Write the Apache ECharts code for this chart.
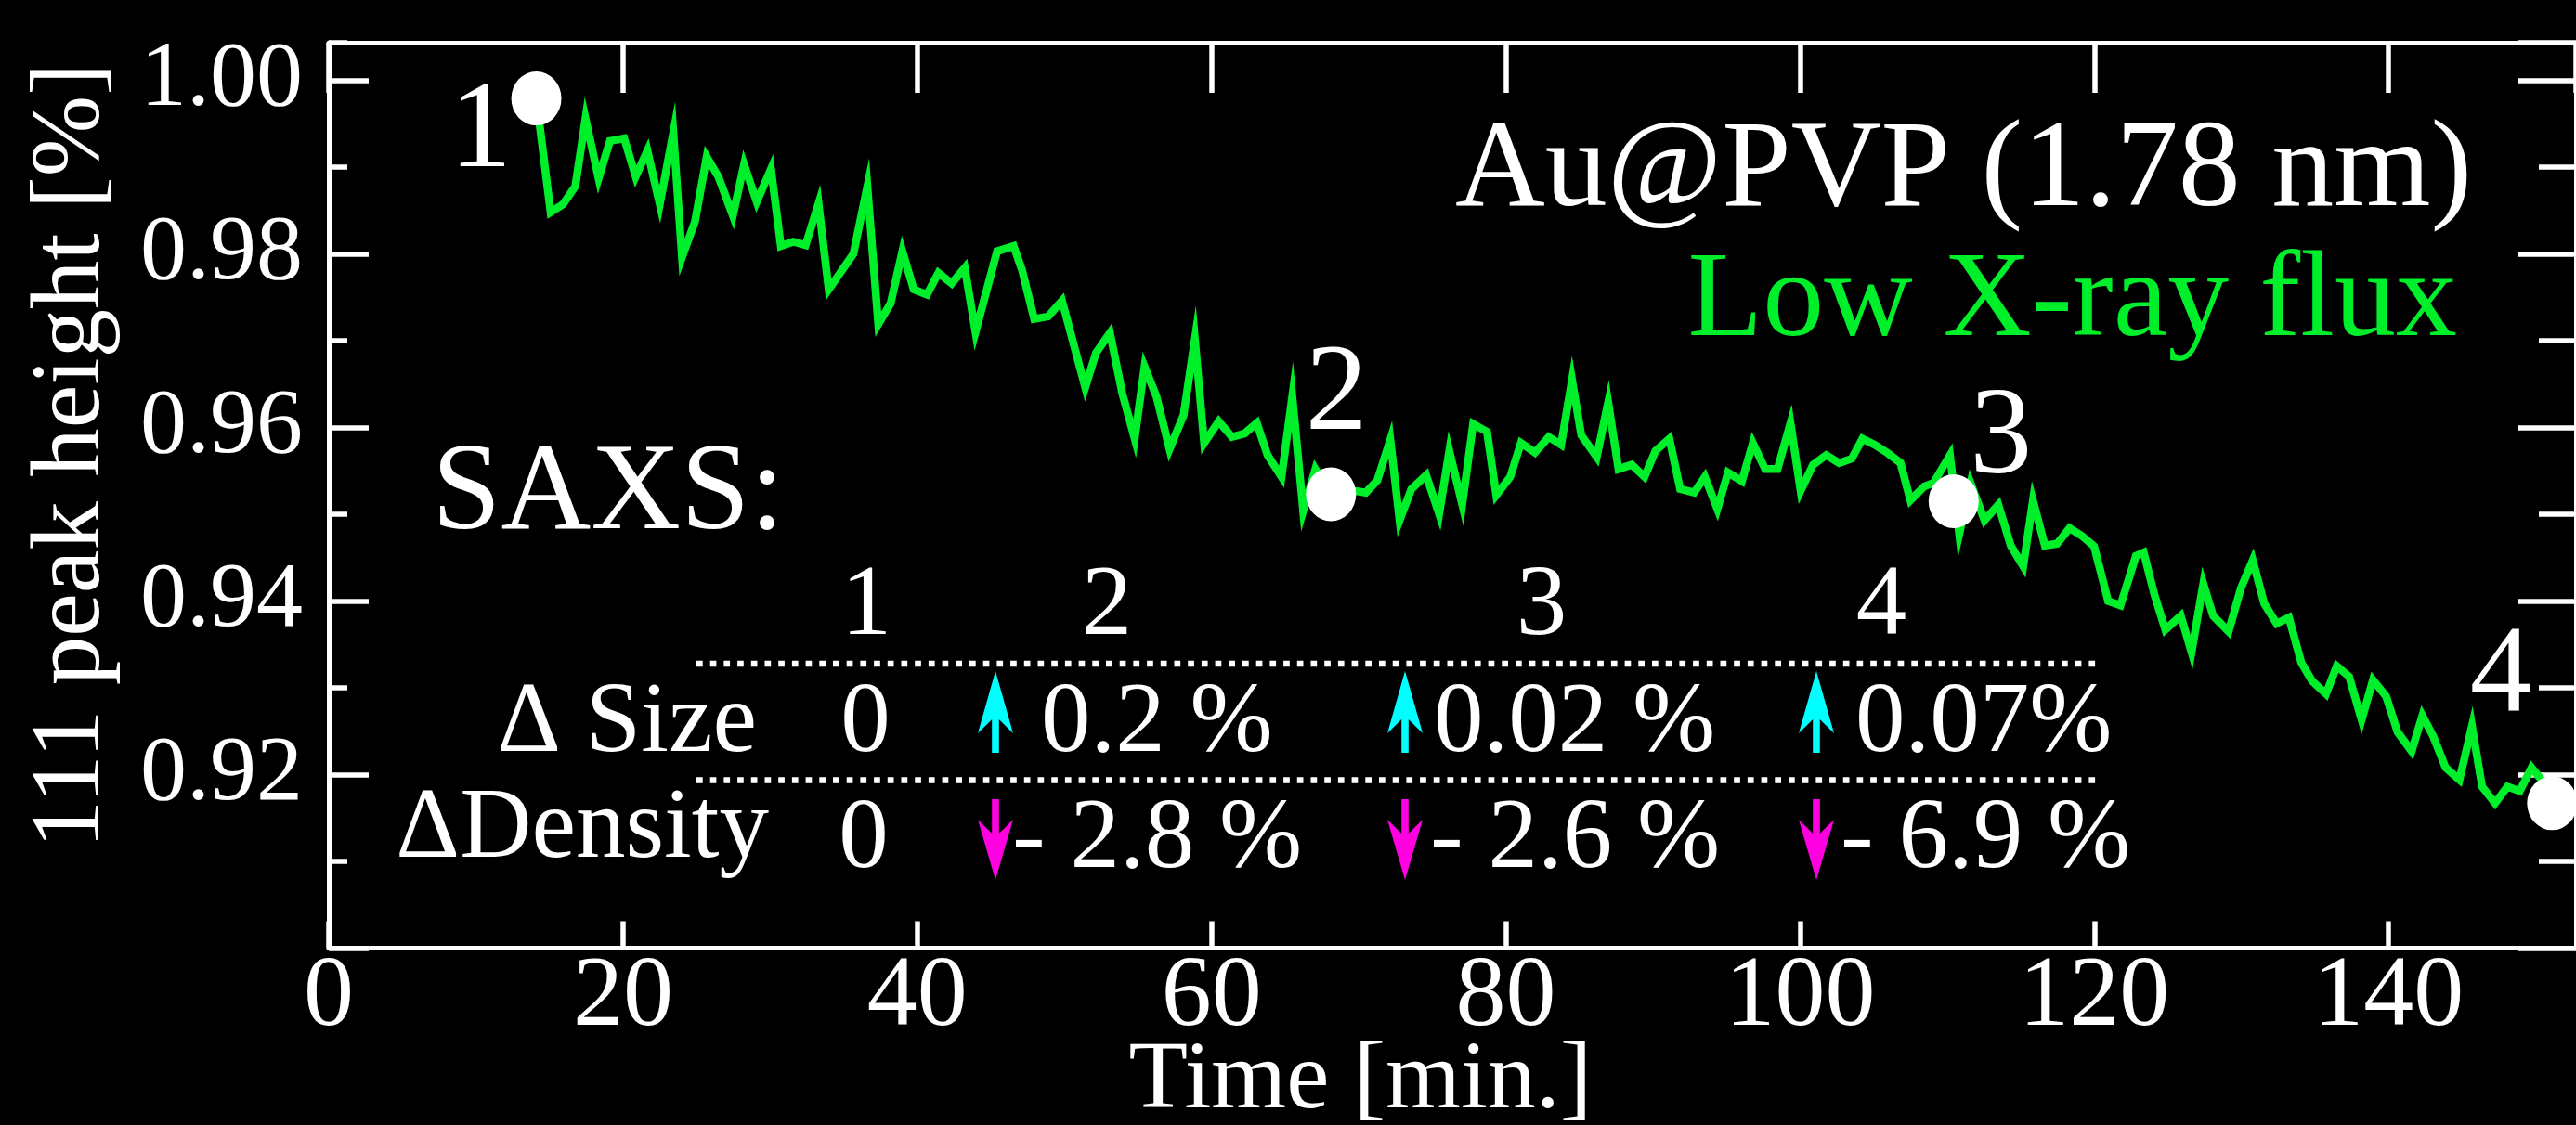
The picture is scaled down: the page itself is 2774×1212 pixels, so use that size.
<!DOCTYPE html>
<html>
<head>
<meta charset="utf-8">
<script src="https://cdn.jsdelivr.net/npm/echarts@6/dist/echarts.min.js"></script>
<style>
html,body{margin:0;padding:0;background:#000;}
#c{width:2774px;height:1212px;}
</style>
</head>
<body>
<div id="c"></div>
<script>
// ---- data ----
const timeMin = [14.11,15.08,15.92,16.76,17.45,18.34,19.11,20.08,20.86,21.66,22.50,23.42,24.01,24.89,25.69,26.48,27.47,28.23,29.09,30.06,30.73,31.57,32.41,33.29,33.98,35.66,36.61,37.35,38.19,38.99,39.76,40.66,41.44,42.34,43.23,43.96,45.43,46.55,47.11,47.95,48.90,49.84,51.42,52.15,53.10,53.94,54.78,55.45,56.25,57.15,58.10,58.87,59.50,60.49,61.39,62.24,63.08,63.81,64.76,65.49,66.23,67.06,68.12,69.69,70.49,71.27,72.15,72.78,73.58,74.59,75.47,76.16,77.04,77.78,78.72,79.35,80.30,81.03,81.98,82.92,83.76,84.50,85.13,86.18,86.96,87.66,88.56,89.43,90.17,91.12,91.85,92.80,93.53,94.38,95.10,96.05,96.79,97.63,98.47,99.35,100.04,100.88,101.78,102.66,103.51,104.24,105.08,105.99,106.83,107.50,108.44,109.07,110.19,110.82,111.59,112.54,113.48,114.32,115.17,115.83,116.64,117.47,118.32,119.16,119.99,120.94,121.78,122.83,123.36,124.09,124.83,125.88,126.61,127.41,128.08,129.13,129.97,130.77,131.55,132.39,133.23,134.07,134.80,135.75,136.48,137.32,138.17,138.94,139.84,140.62,141.57,142.30,143.04,143.88,144.82,145.67,146.36,147.24,148.08,148.92,149.72,150.39,151.12];
const peakHeight = [0.9979,0.9848,0.9857,0.9878,0.9956,0.9887,0.9930,0.9933,0.9889,0.9919,0.9857,0.9940,0.9796,0.9837,0.9912,0.9889,0.9844,0.9903,0.9860,0.9898,0.9809,0.9814,0.9810,0.9858,0.9759,0.9800,0.9878,0.9719,0.9743,0.9803,0.9759,0.9753,0.9778,0.9766,0.9784,0.9710,0.9803,0.9809,0.9782,0.9725,0.9728,0.9746,0.9646,0.9686,0.9709,0.9639,0.9587,0.9670,0.9636,0.9575,0.9614,0.9702,0.9582,0.9607,0.9589,0.9593,0.9605,0.9568,0.9543,0.9636,0.9504,0.9552,0.9523,0.9527,0.9525,0.9539,0.9586,0.9493,0.9529,0.9545,0.9500,0.9573,0.9511,0.9604,0.9595,0.9522,0.9543,0.9582,0.9571,0.9589,0.9580,0.9655,0.9591,0.9566,0.9629,0.9552,0.9557,0.9543,0.9573,0.9587,0.9529,0.9525,0.9543,0.9506,0.9548,0.9538,0.9582,0.9552,0.9552,0.9605,0.9527,0.9557,0.9568,0.9559,0.9564,0.9587,0.9580,0.9570,0.9559,0.9516,0.9532,0.9536,0.9568,0.9477,0.9536,0.9493,0.9511,0.9464,0.9440,0.9516,0.9464,0.9466,0.9484,0.9475,0.9463,0.9400,0.9395,0.9452,0.9456,0.9407,0.9367,0.9383,0.9341,0.9420,0.9383,0.9365,0.9415,0.9447,0.9397,0.9374,0.9381,0.9329,0.9308,0.9293,0.9325,0.9313,0.9263,0.9309,0.9290,0.9249,0.9227,0.9268,0.9244,0.9208,0.9194,0.9256,0.9186,0.9167,0.9186,0.9181,0.9208,0.9194,0.9167];

const saxsTime   = [14.11, 68.12, 110.44, 151.12];
const saxsHeight = [0.9979, 0.9523, 0.9515, 0.9167];
const saxsLabels = ['1', '2', '3', '4'];

const yTickLabels = ['0.92', '0.94', '0.96', '0.98', '1.00'];

const tableCols     = ['1', '2', '3', '4'];
const sizeChange    = ['0', '0.2 %', '0.02 %', '0.07%'];
const densityChange = ['0', '- 2.8 %', '- 2.6 %', '- 6.9 %'];

const titleText = 'Au@PVP (1.78 nm)';
const subtitleText = 'Low X-ray flux';

// ---- styling / layout ----
const FONT = "'Liberation Serif', 'Times New Roman', serif";
const GREEN = '#00ef2b';
const CYAN = '#00ffff';
const MAGENTA = '#ff00e0';

const labelOffsets = [[-60, 38], [6, -106], [51, -66], [-55, -136]];

function txt(text, x, y, size, align, color, extra) {
  return Object.assign({
    type: 'text', x: x, y: y, z: 50,
    style: {
      text: text, fill: color || '#fff', font: size + 'px ' + FONT,
      textAlign: align, align: align,
      textVerticalAlign: 'middle', verticalAlign: 'middle'
    }
  }, extra || {});
}
function upArrow(cx, color) {
  return { type: 'polygon', z: 50, shape: { points: [
    [cx, 723], [cx + 19, 790], [cx + 3.8, 775], [cx + 3.8, 811],
    [cx - 3.8, 811], [cx - 3.8, 775], [cx - 19, 790]] }, style: { fill: color } };
}
function downArrow(cx, color) {
  return { type: 'polygon', z: 50, shape: { points: [
    [cx, 948], [cx + 19, 883], [cx + 3.8, 898], [cx + 3.8, 861],
    [cx - 3.8, 861], [cx - 3.8, 898], [cx - 19, 883]] }, style: { fill: color } };
}

const colX = [933, 1192, 1660, 2026];
const graphics = [
  txt(titleText, 2662, 186, 134, 'right', '#fff'),
  txt(subtitleText, 2646, 326, 132, 'right', GREEN),
  txt('SAXS:', 465, 534, 134, 'left', '#fff'),
  txt('Time [min.]', 1465, 1166, 104, 'center', '#fff'),
  txt('111 peak height [%]', 78, 491, 105, 'center', '#fff', { rotation: Math.PI / 2 }),
  { type: 'line', z: 50, shape: { x1: 750, y1: 715, x2: 2261, y2: 715 },
    style: { stroke: '#fff', lineWidth: 6.7, lineDash: [6.7, 8] } },
  { type: 'line', z: 50, shape: { x1: 750, y1: 840.5, x2: 2261, y2: 840.5 },
    style: { stroke: '#fff', lineWidth: 6.7, lineDash: [6.7, 8] } },
  txt('\u0394 Size', 815, 781, 107, 'right', '#fff'),
  txt('\u0394Density', 828, 895, 107, 'right', '#fff'),
  txt(sizeChange[0], 932, 781, 107, 'center', '#fff'),
  txt(densityChange[0], 930, 906, 107, 'center', '#fff')
];
tableCols.forEach((c, i) => graphics.push(txt(c, colX[i], 654, 109, 'center', '#fff')));
const sizeX = [1121, 1544, 1998];
const densX = [1090, 1540, 1982];
const arrowX = [1072, 1513, 1956];
for (let i = 0; i < 3; i++) {
  graphics.push(txt(sizeChange[i + 1], sizeX[i], 781, 107, 'left', '#fff'));
  graphics.push(txt(densityChange[i + 1], densX[i], 906, 107, 'left', '#fff'));
  graphics.push(upArrow(arrowX[i], CYAN));
  graphics.push(downArrow(arrowX[i], MAGENTA));
}

const Y_MIN = 0.90, Y_MAX = 1.00433, X_MAX = 152.74;

function yAx(position, len, interval, showLine, showLabel) {
  return {
    type: 'value', gridIndex: 0, position: position, min: Y_MIN, max: Y_MAX, interval: interval,
    axisLine: { show: showLine, onZero: false, lineStyle: { color: '#fff', width: 5 } },
    axisTick: { show: true, inside: true, length: len, lineStyle: { color: '#fff', width: 5.5 } },
    splitLine: { show: false },
    axisLabel: showLabel ? {
      show: true, color: '#fff', fontFamily: FONT, fontSize: 100, margin: 28,
      showMaxLabel: false, showMinLabel: true,
      formatter: v => { const s = v.toFixed(2); return yTickLabels.includes(s) ? s : ''; }
    } : { show: false }
  };
}

const option = {
  backgroundColor: '#000',
  animation: false,
  grid: { left: 354, top: 46, width: 2424, height: 975.5, containLabel: false },
  xAxis: [
    {
      type: 'value', position: 'bottom', min: 0, max: X_MAX, interval: 20,
      axisLine: { show: true, onZero: false, lineStyle: { color: '#fff', width: 5 } },
      axisTick: { show: true, inside: true, length: 29, lineStyle: { color: '#fff', width: 5.5 } },
      splitLine: { show: false },
      axisLabel: { show: true, color: '#fff', fontFamily: FONT, fontSize: 108, margin: 0,
                   showMaxLabel: false }
    },
    {
      type: 'value', position: 'top', min: 0, max: X_MAX, interval: 20,
      axisLine: { show: true, onZero: false, lineStyle: { color: '#fff', width: 5 } },
      axisTick: { show: true, inside: true, length: 54, lineStyle: { color: '#fff', width: 5.5 } },
      splitLine: { show: false },
      axisLabel: { show: false }
    }
  ],
  yAxis: [
    yAx('left', 43, 0.02, true, true),
    yAx('left', 20, 0.01, false, false),
    yAx('right', 62, 0.02, true, false),
    yAx('right', 40, 0.01, false, false)
  ],
  series: [
    {
      type: 'line', xAxisIndex: 0, yAxisIndex: 0, z: 5,
      data: timeMin.map((t, i) => [t, peakHeight[i]]),
      showSymbol: false, symbol: 'none', smooth: false,
      lineStyle: { color: GREEN, width: 8.5, join: 'miter', miterLimit: 10, opacity: 1 },
      clip: true
    },
    {
      type: 'scatter', xAxisIndex: 0, yAxisIndex: 0, z: 6,
      symbol: 'circle', symbolSize: [54, 58],
      itemStyle: { color: '#ffffff', opacity: 1 },
      emphasis: { disabled: true },
      data: saxsTime.map((t, i) => ({
        value: [t, saxsHeight[i]], name: saxsLabels[i],
        label: { offset: labelOffsets[i] }
      })),
      label: {
        show: true, position: 'inside', formatter: p => p.name, opacity: 1,
        color: '#ffffff', fontFamily: FONT, fontSize: 134, verticalAlign: 'middle', align: 'center'
      },
      clip: false
    }
  ],
  graphic: graphics
};

const chart = echarts.init(document.getElementById('c'), null, { renderer: 'canvas' });
chart.setOption(option);
</script>
</body>
</html>
